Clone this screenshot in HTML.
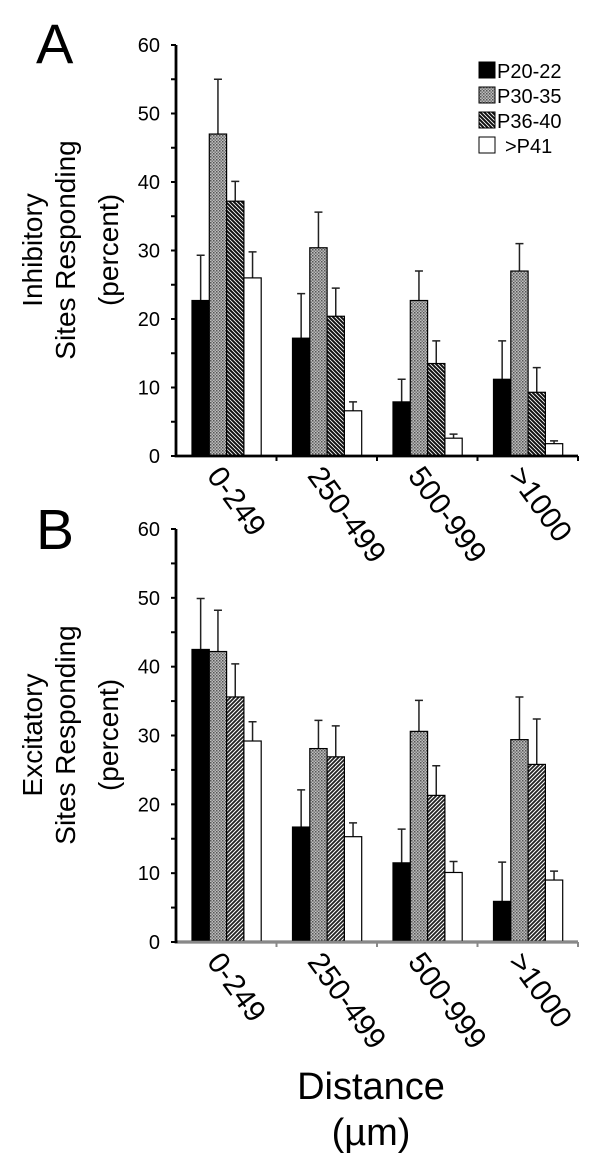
<!DOCTYPE html>
<html><head><meta charset="utf-8"><style>
html,body{margin:0;padding:0;background:#fff;}
svg{display:block;font-family:"Liberation Sans",Arial,sans-serif;}
</style></head><body>
<svg id="fig" width="600" height="1157" viewBox="0 0 600 1157" xmlns="http://www.w3.org/2000/svg">
<defs>
<pattern id="pDots" width="3" height="3" patternUnits="userSpaceOnUse">
<rect width="3" height="3" fill="#bdbdbd"/><rect width="1.5" height="1.5" fill="#555"/><rect x="1.5" y="1.5" width="1.5" height="1.5" fill="#777"/>
</pattern>
<pattern id="pHatchA" width="4" height="4" patternUnits="userSpaceOnUse">
<rect width="4" height="4" fill="#fff"/><path d="M-1,-1 L5,5 M-1,3 L1,5 M3,-1 L5,1" stroke="#111" stroke-width="2"/>
</pattern>
<pattern id="pHatchB" width="4" height="4" patternUnits="userSpaceOnUse">
<rect width="4" height="4" fill="#fff"/><path d="M-1,5 L5,-1 M-1,1 L1,-1 M3,5 L5,3" stroke="#222" stroke-width="1.8"/>
</pattern>
</defs>
<g id="panelA"></g>
<g id="panelB"></g>
<text x="36" y="63" font-size="56">A</text>
<text x="36" y="549" font-size="57">B</text>
<g font-size="28" text-anchor="middle">
<text transform="translate(42,250) rotate(-90)">Inhibitory</text>
<text transform="translate(75,250) rotate(-90)">Sites Responding</text>
<text transform="translate(118,250) rotate(-90)">(percent)</text>
</g>
<g font-size="28" text-anchor="middle">
<text transform="translate(42,735) rotate(-90)">Excitatory</text>
<text transform="translate(75,735) rotate(-90)">Sites Responding</text>
<text transform="translate(118,735) rotate(-90)">(percent)</text>
</g>
<g font-size="38" text-anchor="middle">
<text x="371" y="1099">Distance</text>
<text x="371" y="1145">(µm)</text>
</g>
<g font-size="20">
<g><rect x="479" y="62" width="16" height="16" fill="#000" stroke="#000"/><text x="497" y="78">P20-22</text></g>
<g><rect x="479" y="87" width="16" height="16" fill="url(#pDots)" stroke="#000"/><text x="497" y="103">P30-35</text></g>
<g><rect x="479" y="112" width="16" height="16" fill="url(#pHatchA)" stroke="#000"/><text x="497" y="128">P36-40</text></g>
<g><rect x="479" y="137" width="16" height="16" fill="#fff" stroke="#000"/><text x="505" y="153">&gt;P41</text></g>
</g>
</svg>
<script>
const categories = ["0-249","250-499","500-999",">1000"];
const seriesNames = ["P20-22","P30-35","P36-40",">P41"];
const yTicks = [0,10,20,30,40,50,60];
const inhP20 = [22.7,17.2,7.9,11.2];
const inhP30 = [47,30.4,22.7,27];
const inhP36 = [37.2,20.4,13.5,9.3];
const inhP41 = [26,6.6,2.6,1.8];
const inhErrP20 = [6.6,6.5,3.3,5.6];
const inhErrP30 = [8,5.2,4.3,4];
const inhErrP36 = [2.9,4.1,3.3,3.6];
const inhErrP41 = [3.8,1.3,0.6,0.4];
const excP20 = [42.5,16.7,11.5,5.9];
const excP30 = [42.2,28.1,30.6,29.4];
const excP36 = [35.6,26.9,21.3,25.8];
const excP41 = [29.2,15.3,10.1,9.0];
const excErrP20 = [7.4,5.4,4.9,5.7];
const excErrP30 = [6.0,4.1,4.5,6.2];
const excErrP36 = [4.8,4.5,4.3,6.6];
const excErrP41 = [2.8,2.0,1.6,1.3];

const NS="http://www.w3.org/2000/svg";
function mk(parent,tag,attrs){const e=document.createElementNS(NS,tag);for(const k in attrs)e.setAttribute(k,attrs[k]);parent.appendChild(e);return e;}

function drawPanel(g, cfg, vals, errs, hatch, axisColor){
  const x0=176, x1=578, yTop=cfg.yTop, yBase=cfg.yBase;
  const y=v=>yBase-(v/60)*(yBase-yTop);
  const gw=(x1-x0)/categories.length, bw=17.3;
  const fills=["#000","url(#pDots)",hatch,"#fff"];
  categories.forEach((c,ci)=>{
    const gx=x0+ci*gw+16;
    vals.forEach((s,si)=>{
      const bx=gx+si*bw, v=s[ci], e=errs[si][ci];
      const cx=bx+bw/2;
      const eb=mk(g,"path",{d:`M${cx},${y(v)} V${y(v+e)} M${cx-4},${y(v+e)} H${cx+4}`,stroke:"#222","stroke-width":1.5,fill:"none"});
      
      
      const r=mk(g,"rect",{x:bx,y:y(v),width:bw,height:yBase-y(v),fill:fills[si],stroke:"#000","stroke-width":1.2});
      
      
    });
    const lab=mk(g,"text",{transform:`translate(${x0+ci*gw+30},${yBase+20}) rotate(54)`,"font-size":30});
    lab.textContent=c;
    
    
  });
  const ax=mk(g,"path",{d:`M${x0},${yTop} V${yBase} H${x1}`,stroke:"#000","stroke-width":2.8,fill:"none"});
  
  
  if(axisColor){mk(g,"line",{x1:x0+1.5,y1:yBase,x2:x1,y2:yBase,stroke:axisColor,"stroke-width":2.5});}
  for(let v=0;v<=60;v+=5){mk(g,"line",{x1:x0-5,y1:y(v),x2:x0,y2:y(v),stroke:"#000","stroke-width":2});}
  for(let i=1;i<=categories.length;i++){mk(g,"line",{x1:x0+i*gw,y1:yBase,x2:x0+i*gw,y2:yBase+5,stroke:axisColor||"#000","stroke-width":2});}
  yTicks.forEach(v=>{
    const t=mk(g,"text",{x:x0-16,y:y(v)+7,"font-size":20,"text-anchor":"end"});
    t.textContent=v;
    
    
  });
}
drawPanel(document.getElementById('panelA'),{yTop:45,yBase:456},[inhP20,inhP30,inhP36,inhP41],[inhErrP20,inhErrP30,inhErrP36,inhErrP41],"url(#pHatchA)",null);
drawPanel(document.getElementById('panelB'),{yTop:529,yBase:942},[excP20,excP30,excP36,excP41],[excErrP20,excErrP30,excErrP36,excErrP41],"url(#pHatchB)","#888");
</script>
</body></html>
